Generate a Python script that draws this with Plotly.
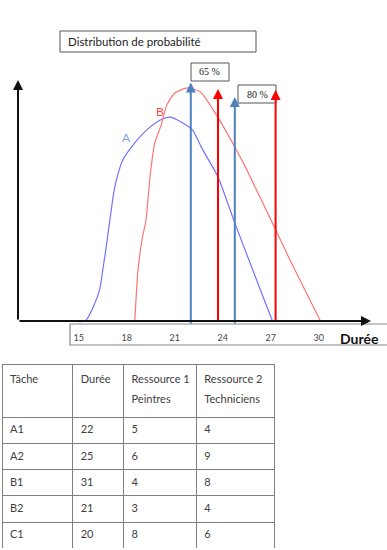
import plotly.graph_objects as go

W, H = 387, 550

# ---- data ----
a_duree = [14.5, 15.4, 15.9, 16.3, 16.5, 16.75, 16.95, 17.25, 17.75, 18.5, 19.25, 20.1, 20.7, 21.5, 22.1, 22.75, 23.7, 24.75, 25.8, 27.1]
a_prob = [0, 0, 0.058, 0.129, 0.212, 0.324, 0.423, 0.556, 0.668, 0.739, 0.793, 0.834, 0.846, 0.822, 0.793, 0.710, 0.598, 0.407, 0.224, 0]

b_duree = [18.5, 18.7, 18.95, 19.2, 19.45, 19.75, 20.15, 20.5, 21.0, 21.8, 22.6, 23.6, 24.75, 25.5, 27.4, 28.2, 30.1]
b_prob = [0, 0.212, 0.336, 0.419, 0.598, 0.739, 0.813, 0.896, 0.946, 0.967, 0.950, 0.855, 0.722, 0.627, 0.365, 0.253, 0]

arrow_duree = [22.0, 23.7, 24.75, 27.3]
arrow_top = [0.99, 0.963, 0.929, 0.959]
arrow_bottom = [-0.017, -0.004, -0.017, -0.004]
arrow_colors = ["#4F81BD", "#FF0000", "#4F81BD", "#FF0000"]

tick_vals = [15, 18, 21, 24, 27, 30]
tick_text = ["15", "18", "21", "24", "27", "30"]

percent_labels = ["65 %", "80 %"]

table_header = ["Tâche<br>", "Durée<br>", "Ressource 1<br>Peintres", "Ressource 2<br>Techniciens"]
taches = ["A1", "A2", "B1", "B2", "C1"]
durees = [22, 25, 31, 21, 20]
peintres = [5, 6, 4, 3, 8]
techniciens = [4, 9, 8, 4, 6]

# ---- layout helpers (pixel -> paper) ----
def px(x):
    return x / W

def py(y):
    return (H - y) / H

X_RANGE = [11.2, 33.2]
Y_RANGE = [-0.05, 1.02]
Y0_PX, Y1_PX = 321, 80          # pixels of y=0 and y=1
unit = Y0_PX - Y1_PX
dom_bottom = Y0_PX - Y_RANGE[0] * unit
dom_top = Y0_PX - Y_RANGE[1] * unit

fig = go.Figure()

fig.add_trace(go.Scatter(x=a_duree, y=a_prob, mode="lines",
                         line=dict(color="#7272FF", width=1.2, shape="spline", smoothing=0.6),
                         hoverinfo="skip", showlegend=False))
fig.add_trace(go.Scatter(x=b_duree, y=b_prob, mode="lines",
                         line=dict(color="#FF7474", width=1.2, shape="spline", smoothing=0.6),
                         hoverinfo="skip", showlegend=False))

ann = []
for d, t, b, c in zip(arrow_duree, arrow_top, arrow_bottom, arrow_colors):
    ann.append(dict(x=d, y=t, ax=d, ay=b, xref="x", yref="y", axref="x", ayref="y",
                    text="", showarrow=True, arrowhead=2, arrowsize=1.0, arrowwidth=2,
                    arrowcolor=c))

# axes arrows
ann.append(dict(x=px(18), y=py(80), xref="paper", yref="paper", ax=0, ay=241,
                text="", showarrow=True, arrowhead=2, arrowsize=1, arrowwidth=2, arrowcolor="#111"))
ann.append(dict(x=px(371), y=py(321), xref="paper", yref="paper", ax=-353, ay=0,
                text="", showarrow=True, arrowhead=2, arrowsize=1, arrowwidth=2, arrowcolor="#111"))

# curve labels
ann.append(dict(x=18.0, y=0.76, xref="x", yref="y", text="A", showarrow=False,
                font=dict(family="Lato", size=12, color="#7F9FD0")))
ann.append(dict(x=20.08, y=0.87, xref="x", yref="y", text="B", showarrow=False,
                font=dict(family="Lato", size=12, color="#FF4A4A")))

# title
ann.append(dict(x=px(66), y=py(41.5), xref="paper", yref="paper", xanchor="left", yanchor="middle",
                text="Distribution de probabilité", showarrow=False,
                font=dict(family="Lato", size=11.5, color="#222")))
# percent labels
ann.append(dict(x=px(197), y=py(72), xref="paper", yref="paper", xanchor="left", yanchor="middle",
                text=percent_labels[0], showarrow=False,
                font=dict(family="Liberation Serif", size=10, color="#222")))
ann.append(dict(x=px(245), y=py(94), xref="paper", yref="paper", xanchor="left", yanchor="middle",
                text=percent_labels[1], showarrow=False,
                font=dict(family="Liberation Serif", size=10, color="#222")))
# Durée
ann.append(dict(x=px(359), y=py(338), xref="paper", yref="paper", xanchor="center", yanchor="middle",
                text="<b>Durée</b>", showarrow=False,
                font=dict(family="Lato", size=14, color="#111")))

shapes = [
    dict(type="rect", xref="paper", yref="paper", x0=px(60), x1=px(256), y0=py(52), y1=py(31),
         line=dict(color="#555", width=1)),
    dict(type="rect", xref="paper", yref="paper", x0=px(191), x1=px(229), y0=py(81), y1=py(63),
         line=dict(color="#555", width=1)),
    dict(type="rect", xref="paper", yref="paper", x0=px(238), x1=px(276), y0=py(103), y1=py(85),
         line=dict(color="#555", width=1)),
    dict(type="rect", xref="paper", yref="paper", x0=px(70), x1=px(392), y0=py(345), y1=py(324),
         line=dict(color="#888", width=1.2)),
]

sp = '<span style="font-size:11px">'
hdr = []
for h in table_header:
    parts = h.split("<br>")
    hdr.append("<br>".join(sp + p + "</span>" if p else "" for p in parts))

fig.add_trace(go.Table(
    domain=dict(x=[px(2), px(275)], y=[py(548), py(364)]),
    columnwidth=[71, 51, 73, 78],
    header=dict(values=hdr, height=53, align="left",
                font=dict(family="Lato", size=15, color="#404040"),
                line=dict(color="#7F7F7F", width=1), fill=dict(color="white")),
    cells=dict(values=[taches, durees, peintres, techniciens], height=26.3, align="left",
               font=dict(family="Lato", size=11, color="#404040"),
               line=dict(color="#7F7F7F", width=1), fill=dict(color="white")),
))

fig.update_layout(
    width=W, height=H, margin=dict(l=0, r=0, t=0, b=0),
    paper_bgcolor="white", plot_bgcolor="white", showlegend=False,
    xaxis=dict(domain=[px(18), px(370)], range=X_RANGE, showgrid=False, zeroline=False,
               showline=False, ticks="", tickvals=tick_vals, ticktext=tick_text,
               tickfont=dict(family="Lato", size=9, color="#444"),
               anchor="free", position=py(321), ticklabelstandoff=10, fixedrange=True),
    yaxis=dict(domain=[py(dom_bottom), py(dom_top)], range=Y_RANGE, showgrid=False,
               zeroline=False, showline=False, showticklabels=False, ticks="", fixedrange=True),
    annotations=ann, shapes=shapes,
)

fig.write_html("out.html", config={"displayModeBar": False},
               post_script="document.body.style.margin='0';")
